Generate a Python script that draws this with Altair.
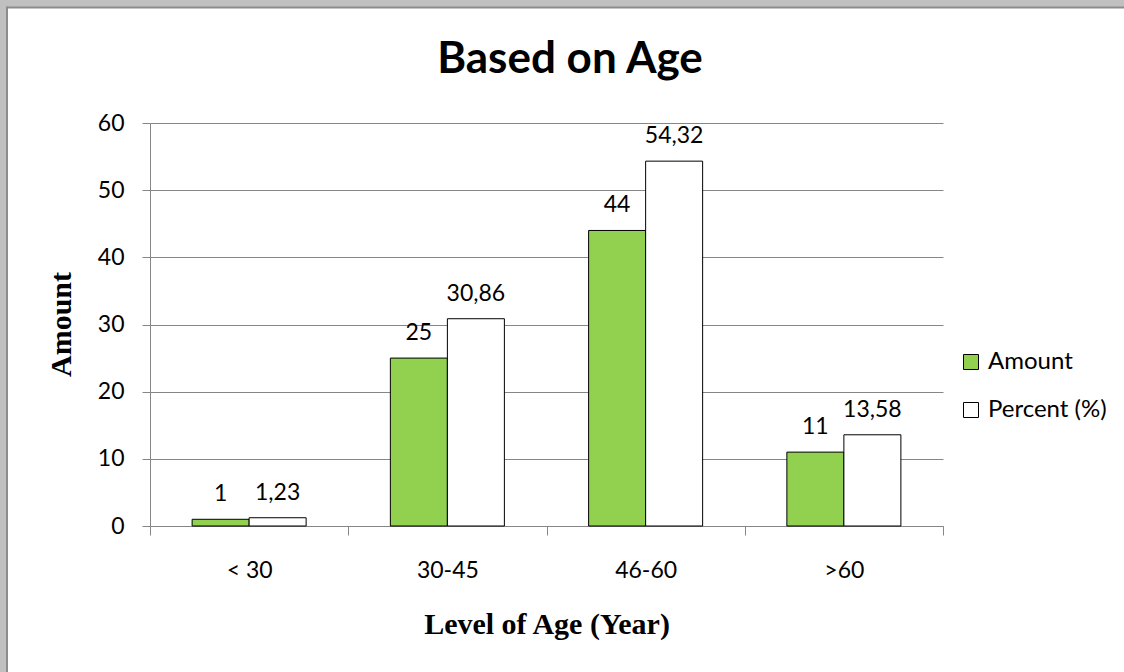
import altair as alt
import pandas as pd

# Age groups and the two measured series
categories = ["< 30", "30-45", "46-60", ">60"]
amount = [1, 25, 44, 11]
percent = [1.23, 30.86, 54.32, 13.58]
series_names = ["Amount", "Percent (%)"]
series_colors = ["#92d050", "#ffffff"]
y_ticks = [0, 10, 20, 30, 40, 50, 60]
chart_title = "Based on Age"


def fmt(v):
    # decimal comma, integers without decimals
    if float(v).is_integer():
        return str(int(v))
    return f"{v:.2f}".replace(".", ",")


rows = []
for cat, a, p in zip(categories, amount, percent):
    rows.append({"age": cat, "series": series_names[0], "value": a, "label": fmt(a)})
    rows.append({"age": cat, "series": series_names[1], "value": p, "label": fmt(p)})
df = pd.DataFrame(rows)

SANS = "Lato"
SERIF = "Liberation Serif"
GRID = "#868686"

x_enc = alt.X(
    "age:N",
    sort=categories,
    scale=alt.Scale(paddingInner=0, paddingOuter=0),
    axis=alt.Axis(
        title="Level of Age (Year)",
        titleFont=SERIF,
        titleFontSize=30,
        titleFontWeight="bold",
        titleColor="black",
        titleBaseline="alphabetic",
        titleY=107,
        labelAngle=0,
        labelFont=SANS,
        labelFontSize=23,
        labelColor="black",
        labelBaseline="alphabetic",
        labelPadding=42,
        tickSize=9,
        tickBand="extent",
        grid=False,
        domainColor=GRID,
        tickColor=GRID,
    ),
)
y_enc = alt.Y(
    "value:Q",
    scale=alt.Scale(domain=[0, 60], nice=False),
    axis=alt.Axis(
        title="Amount",
        titleFont=SERIF,
        titleFontSize=30,
        titleFontWeight="bold",
        titleColor="black",
        titleBaseline="alphabetic",
        titleAngle=-90,
        titleAlign="center",
        titleX=-80,
        titleY=201,
        values=y_ticks,
        labelFont=SANS,
        labelFontSize=23,
        labelColor="black",
        labelPadding=18,
        tickSize=8,
        grid=True,
        gridColor=GRID,
        domainColor=GRID,
        tickColor=GRID,
    ),
)
# two adjacent bars in the middle of each age band
xoff = alt.XOffset("series:N", sort=series_names,
                   scale=alt.Scale(paddingInner=0, paddingOuter=0.739))

bars = alt.Chart(df).mark_bar(stroke="black", strokeWidth=1).encode(
    x=x_enc,
    xOffset=xoff,
    y=y_enc,
    color=alt.Color(
        "series:N",
        sort=series_names,
        scale=alt.Scale(domain=series_names, range=series_colors),
        legend=alt.Legend(
            title=None,
            orient="none",
            legendX=809,
            legendY=227,
            labelFont=SANS,
            labelFontSize=24,
            labelColor="black",
            labelOffset=5,
            symbolType="square",
            symbolSize=225,
            symbolStrokeColor="black",
            symbolStrokeWidth=1,
            rowPadding=24,
        ),
    ),
)

labels = alt.Chart(df).mark_text(
    font=SANS, fontSize=23, color="black", baseline="alphabetic", dy=-18
).encode(
    x=alt.X("age:N", sort=categories),
    xOffset=xoff,
    y="value:Q",
    text="label:N",
)

one = alt.Data(values=[{}])

# chart heading
heading = alt.Chart(one).mark_text(
    font=SANS, fontSize=44, fontWeight="bold", color="black",
    align="center", baseline="alphabetic", text=chart_title,
).encode(x=alt.value(420), y=alt.value(-50))

# grey window frame along the top and left edges
frame_left = alt.Chart(one).mark_rule(color="#c0c0c0", strokeWidth=7).encode(
    x=alt.value(-146.5), y=alt.value(-123), y2=alt.value(549))
frame_top = alt.Chart(one).mark_rule(color="#c0c0c0", strokeWidth=7).encode(
    y=alt.value(-119.5), x=alt.value(-150), x2=alt.value(974))
edge_left = alt.Chart(one).mark_rule(color="#8c8c8c", strokeWidth=2).encode(
    x=alt.value(-143), y=alt.value(-116.5), y2=alt.value(549))
edge_top = alt.Chart(one).mark_rule(color="#8c8c8c", strokeWidth=2).encode(
    y=alt.value(-115.5), x=alt.value(-143), x2=alt.value(974))

chart = alt.layer(
    bars, labels, heading, frame_left, frame_top, edge_left, edge_top
).properties(
    width=793,
    height=403,
    autosize=alt.AutoSizeParams(type="none"),
    padding={"left": 150, "top": 123, "right": 181, "bottom": 146},
    background="white",
).configure_view(stroke=None)

chart.save("out.html", embed_options={"renderer": "svg", "actions": False})
